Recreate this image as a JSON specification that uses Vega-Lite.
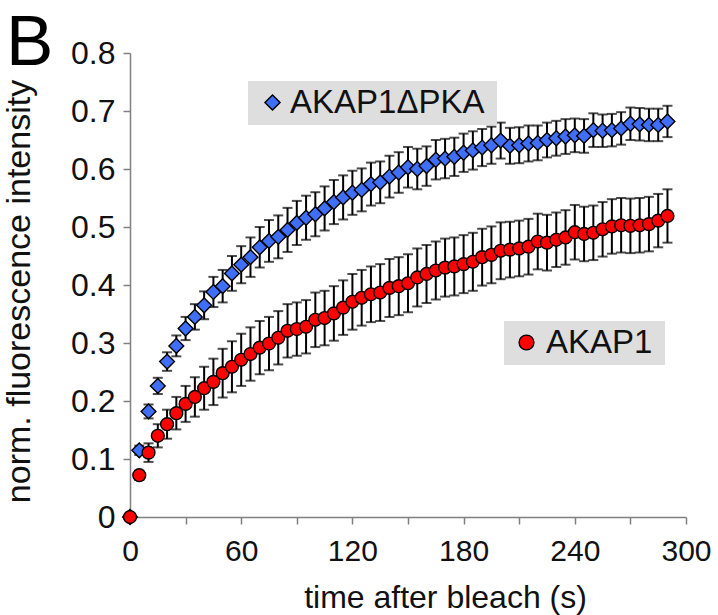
{
  "$schema": "https://vega.github.io/schema/vega-lite/v6.json",
  "width": 556,
  "height": 464,
  "autosize": {"type": "none"},
  "padding": {"left": 130, "top": 53, "right": 32, "bottom": 98},
  "background": "white",
  "config": {
    "font": "Liberation Sans",
    "view": {"stroke": null},
    "axis": {"grid": false}
  },
  "title": {
    "text": "B",
    "anchor": "start",
    "frame": "group",
    "fontSize": 71,
    "fontWeight": "normal",
    "font": "Liberation Sans",
    "color": "#000000",
    "baseline": "alphabetic",
    "offset": 0,
    "dx": -124,
    "dy": 99
  },
  "datasets": {
    "akap": [
      {"time": 0, "series": "AKAP1ΔPKA", "mean": 0, "err": 0},
      {"time": 5, "series": "AKAP1ΔPKA", "mean": 0.115, "err": 0.008},
      {"time": 10, "series": "AKAP1ΔPKA", "mean": 0.182, "err": 0.012},
      {"time": 15, "series": "AKAP1ΔPKA", "mean": 0.226, "err": 0.014},
      {"time": 20, "series": "AKAP1ΔPKA", "mean": 0.268, "err": 0.016},
      {"time": 25, "series": "AKAP1ΔPKA", "mean": 0.295, "err": 0.018},
      {"time": 30, "series": "AKAP1ΔPKA", "mean": 0.325, "err": 0.02},
      {"time": 35, "series": "AKAP1ΔPKA", "mean": 0.345, "err": 0.022},
      {"time": 40, "series": "AKAP1ΔPKA", "mean": 0.365, "err": 0.024},
      {"time": 45, "series": "AKAP1ΔPKA", "mean": 0.388, "err": 0.026},
      {"time": 50, "series": "AKAP1ΔPKA", "mean": 0.398, "err": 0.028},
      {"time": 55, "series": "AKAP1ΔPKA", "mean": 0.42, "err": 0.03},
      {"time": 60, "series": "AKAP1ΔPKA", "mean": 0.435, "err": 0.032},
      {"time": 65, "series": "AKAP1ΔPKA", "mean": 0.448, "err": 0.034},
      {"time": 70, "series": "AKAP1ΔPKA", "mean": 0.465, "err": 0.035},
      {"time": 75, "series": "AKAP1ΔPKA", "mean": 0.476, "err": 0.036},
      {"time": 80, "series": "AKAP1ΔPKA", "mean": 0.483, "err": 0.037},
      {"time": 85, "series": "AKAP1ΔPKA", "mean": 0.495, "err": 0.038},
      {"time": 90, "series": "AKAP1ΔPKA", "mean": 0.507, "err": 0.038},
      {"time": 95, "series": "AKAP1ΔPKA", "mean": 0.516, "err": 0.038},
      {"time": 100, "series": "AKAP1ΔPKA", "mean": 0.522, "err": 0.038},
      {"time": 105, "series": "AKAP1ΔPKA", "mean": 0.532, "err": 0.038},
      {"time": 110, "series": "AKAP1ΔPKA", "mean": 0.543, "err": 0.038},
      {"time": 115, "series": "AKAP1ΔPKA", "mean": 0.551, "err": 0.038},
      {"time": 120, "series": "AKAP1ΔPKA", "mean": 0.559, "err": 0.038},
      {"time": 125, "series": "AKAP1ΔPKA", "mean": 0.564, "err": 0.037},
      {"time": 130, "series": "AKAP1ΔPKA", "mean": 0.574, "err": 0.037},
      {"time": 135, "series": "AKAP1ΔPKA", "mean": 0.577, "err": 0.036},
      {"time": 140, "series": "AKAP1ΔPKA", "mean": 0.587, "err": 0.036},
      {"time": 145, "series": "AKAP1ΔPKA", "mean": 0.594, "err": 0.035},
      {"time": 150, "series": "AKAP1ΔPKA", "mean": 0.603, "err": 0.035},
      {"time": 155, "series": "AKAP1ΔPKA", "mean": 0.6, "err": 0.035},
      {"time": 160, "series": "AKAP1ΔPKA", "mean": 0.605, "err": 0.034},
      {"time": 165, "series": "AKAP1ΔPKA", "mean": 0.616, "err": 0.034},
      {"time": 170, "series": "AKAP1ΔPKA", "mean": 0.618, "err": 0.034},
      {"time": 175, "series": "AKAP1ΔPKA", "mean": 0.621, "err": 0.033},
      {"time": 180, "series": "AKAP1ΔPKA", "mean": 0.628, "err": 0.033},
      {"time": 185, "series": "AKAP1ΔPKA", "mean": 0.632, "err": 0.033},
      {"time": 190, "series": "AKAP1ΔPKA", "mean": 0.637, "err": 0.032},
      {"time": 195, "series": "AKAP1ΔPKA", "mean": 0.641, "err": 0.032},
      {"time": 200, "series": "AKAP1ΔPKA", "mean": 0.649, "err": 0.031},
      {"time": 205, "series": "AKAP1ΔPKA", "mean": 0.64, "err": 0.031},
      {"time": 210, "series": "AKAP1ΔPKA", "mean": 0.641, "err": 0.031},
      {"time": 215, "series": "AKAP1ΔPKA", "mean": 0.644, "err": 0.031},
      {"time": 220, "series": "AKAP1ΔPKA", "mean": 0.645, "err": 0.03},
      {"time": 225, "series": "AKAP1ΔPKA", "mean": 0.65, "err": 0.03},
      {"time": 230, "series": "AKAP1ΔPKA", "mean": 0.653, "err": 0.03},
      {"time": 235, "series": "AKAP1ΔPKA", "mean": 0.656, "err": 0.03},
      {"time": 240, "series": "AKAP1ΔPKA", "mean": 0.658, "err": 0.029},
      {"time": 245, "series": "AKAP1ΔPKA", "mean": 0.657, "err": 0.029},
      {"time": 250, "series": "AKAP1ΔPKA", "mean": 0.667, "err": 0.029},
      {"time": 255, "series": "AKAP1ΔPKA", "mean": 0.666, "err": 0.028},
      {"time": 260, "series": "AKAP1ΔPKA", "mean": 0.667, "err": 0.028},
      {"time": 265, "series": "AKAP1ΔPKA", "mean": 0.67, "err": 0.028},
      {"time": 270, "series": "AKAP1ΔPKA", "mean": 0.678, "err": 0.028},
      {"time": 275, "series": "AKAP1ΔPKA", "mean": 0.677, "err": 0.028},
      {"time": 280, "series": "AKAP1ΔPKA", "mean": 0.676, "err": 0.028},
      {"time": 285, "series": "AKAP1ΔPKA", "mean": 0.676, "err": 0.028},
      {"time": 290, "series": "AKAP1ΔPKA", "mean": 0.682, "err": 0.027},
      {"time": 0, "series": "AKAP1", "mean": 0, "err": 0},
      {"time": 5, "series": "AKAP1", "mean": 0.072, "err": 0.008},
      {"time": 10, "series": "AKAP1", "mean": 0.111, "err": 0.016},
      {"time": 15, "series": "AKAP1", "mean": 0.14, "err": 0.02},
      {"time": 20, "series": "AKAP1", "mean": 0.16, "err": 0.025},
      {"time": 25, "series": "AKAP1", "mean": 0.179, "err": 0.028},
      {"time": 30, "series": "AKAP1", "mean": 0.195, "err": 0.031},
      {"time": 35, "series": "AKAP1", "mean": 0.207, "err": 0.034},
      {"time": 40, "series": "AKAP1", "mean": 0.222, "err": 0.037},
      {"time": 45, "series": "AKAP1", "mean": 0.233, "err": 0.04},
      {"time": 50, "series": "AKAP1", "mean": 0.248, "err": 0.042},
      {"time": 55, "series": "AKAP1", "mean": 0.259, "err": 0.044},
      {"time": 60, "series": "AKAP1", "mean": 0.271, "err": 0.045},
      {"time": 65, "series": "AKAP1", "mean": 0.281, "err": 0.046},
      {"time": 70, "series": "AKAP1", "mean": 0.292, "err": 0.046},
      {"time": 75, "series": "AKAP1", "mean": 0.299, "err": 0.046},
      {"time": 80, "series": "AKAP1", "mean": 0.309, "err": 0.046},
      {"time": 85, "series": "AKAP1", "mean": 0.321, "err": 0.046},
      {"time": 90, "series": "AKAP1", "mean": 0.324, "err": 0.046},
      {"time": 95, "series": "AKAP1", "mean": 0.328, "err": 0.046},
      {"time": 100, "series": "AKAP1", "mean": 0.34, "err": 0.047},
      {"time": 105, "series": "AKAP1", "mean": 0.343, "err": 0.047},
      {"time": 110, "series": "AKAP1", "mean": 0.351, "err": 0.047},
      {"time": 115, "series": "AKAP1", "mean": 0.361, "err": 0.047},
      {"time": 120, "series": "AKAP1", "mean": 0.371, "err": 0.048},
      {"time": 125, "series": "AKAP1", "mean": 0.378, "err": 0.048},
      {"time": 130, "series": "AKAP1", "mean": 0.384, "err": 0.048},
      {"time": 135, "series": "AKAP1", "mean": 0.387, "err": 0.049},
      {"time": 140, "series": "AKAP1", "mean": 0.395, "err": 0.05},
      {"time": 145, "series": "AKAP1", "mean": 0.398, "err": 0.05},
      {"time": 150, "series": "AKAP1", "mean": 0.403, "err": 0.05},
      {"time": 155, "series": "AKAP1", "mean": 0.413, "err": 0.05},
      {"time": 160, "series": "AKAP1", "mean": 0.419, "err": 0.05},
      {"time": 165, "series": "AKAP1", "mean": 0.425, "err": 0.05},
      {"time": 170, "series": "AKAP1", "mean": 0.43, "err": 0.05},
      {"time": 175, "series": "AKAP1", "mean": 0.432, "err": 0.05},
      {"time": 180, "series": "AKAP1", "mean": 0.436, "err": 0.05},
      {"time": 185, "series": "AKAP1", "mean": 0.44, "err": 0.05},
      {"time": 190, "series": "AKAP1", "mean": 0.448, "err": 0.049},
      {"time": 195, "series": "AKAP1", "mean": 0.452, "err": 0.049},
      {"time": 200, "series": "AKAP1", "mean": 0.459, "err": 0.049},
      {"time": 205, "series": "AKAP1", "mean": 0.461, "err": 0.048},
      {"time": 210, "series": "AKAP1", "mean": 0.463, "err": 0.048},
      {"time": 215, "series": "AKAP1", "mean": 0.466, "err": 0.048},
      {"time": 220, "series": "AKAP1", "mean": 0.475, "err": 0.048},
      {"time": 225, "series": "AKAP1", "mean": 0.473, "err": 0.048},
      {"time": 230, "series": "AKAP1", "mean": 0.478, "err": 0.047},
      {"time": 235, "series": "AKAP1", "mean": 0.482, "err": 0.047},
      {"time": 240, "series": "AKAP1", "mean": 0.491, "err": 0.047},
      {"time": 245, "series": "AKAP1", "mean": 0.488, "err": 0.047},
      {"time": 250, "series": "AKAP1", "mean": 0.49, "err": 0.047},
      {"time": 255, "series": "AKAP1", "mean": 0.496, "err": 0.047},
      {"time": 260, "series": "AKAP1", "mean": 0.501, "err": 0.047},
      {"time": 265, "series": "AKAP1", "mean": 0.503, "err": 0.047},
      {"time": 270, "series": "AKAP1", "mean": 0.502, "err": 0.047},
      {"time": 275, "series": "AKAP1", "mean": 0.503, "err": 0.047},
      {"time": 280, "series": "AKAP1", "mean": 0.505, "err": 0.047},
      {"time": 285, "series": "AKAP1", "mean": 0.511, "err": 0.046},
      {"time": 290, "series": "AKAP1", "mean": 0.519, "err": 0.046}
    ]
  },
  "data": {"name": "akap"},
  "encoding": {
    "x": {
      "field": "time",
      "type": "quantitative",
      "scale": {"domain": [0, 300], "nice": false, "zero": false},
      "axis": {
        "title": "time after bleach (s)",
        "values": [0, 30, 60, 90, 120, 150, 180, 210, 240, 270, 300],
        "labelExpr": "datum.value % 60 == 0 ? datum.label : ''",
        "domainColor": "#808080",
        "tickColor": "#808080",
        "domainWidth": 1.5,
        "tickWidth": 1.5,
        "tickSize": 7,
        "labelFontSize": 30,
        "labelColor": "#111111",
        "labelPadding": 12,
        "labelFlush": false,
        "labelOverlap": false,
        "titleFontSize": 32,
        "titleFontWeight": "normal",
        "titleColor": "#111111",
        "titleX": 315,
        "titleY": 90,
        "titleAlign": "center",
        "titleBaseline": "alphabetic"
      }
    },
    "y": {
      "field": "mean",
      "type": "quantitative",
      "scale": {"domain": [0, 0.8], "nice": false},
      "axis": {
        "title": "norm. fluorescence intensity",
        "values": [0, 0.1, 0.2, 0.3, 0.4, 0.5, 0.6, 0.7, 0.8],
        "format": ".1~f",
        "domainColor": "#808080",
        "tickColor": "#808080",
        "domainWidth": 1.5,
        "tickWidth": 1.5,
        "tickSize": 7,
        "labelFontSize": 32,
        "labelColor": "#111111",
        "labelPadding": 8,
        "labelFlush": false,
        "labelOverlap": false,
        "titleFontSize": 34,
        "titleFontWeight": "normal",
        "titleColor": "#111111",
        "titleX": -111,
        "titleY": 238,
        "titleAngle": 270,
        "titleAlign": "center",
        "titleBaseline": "middle"
      }
    }
  },
  "layer": [
    {
      "transform": [{"filter": "datum.series == 'AKAP1ΔPKA'"}],
      "mark": {"type": "errorbar", "ticks": {"thickness": 2, "color": "black"}, "rule": {"strokeWidth": 2, "color": "black"}, "color": "black", "thickness": 2, "size": 10},
      "encoding": {"yError": {"field": "err"}}
    },
    {
      "transform": [{"filter": "datum.series == 'AKAP1ΔPKA'"}],
      "mark": {"type": "point", "shape": "diamond", "filled": true, "size": 220, "stroke": "black", "strokeWidth": 1.4, "opacity": 1},
      "encoding": {
        "color": {
          "field": "series",
          "type": "nominal",
          "scale": {"domain": ["AKAP1ΔPKA"], "range": ["#3f6ef8"]},
          "legend": {
            "orient": "none",
            "legendX": 118,
            "legendY": 28,
            "title": "\u00a0",
            "titleOrient": "right",
            "titleFontSize": 10,
            "titlePadding": 8,
            "fillColor": "#dedede",
            "padding": 5,
            "symbolOffset": 3,
            "labelOffset": 1,
            "labelFontSize": 33,
            "labelLimit": 400,
            "labelColor": "#111111",
            "symbolType": "diamond",
            "symbolSize": 230,
            "symbolStrokeColor": "black",
            "symbolStrokeWidth": 1.4
          }
        }
      }
    },
    {
      "transform": [{"filter": "datum.series == 'AKAP1'"}],
      "mark": {"type": "errorbar", "ticks": {"thickness": 2, "color": "black"}, "rule": {"strokeWidth": 2, "color": "black"}, "color": "black", "thickness": 2, "size": 10},
      "encoding": {"yError": {"field": "err"}}
    },
    {
      "transform": [{"filter": "datum.series == 'AKAP1'"}],
      "mark": {"type": "point", "shape": "circle", "filled": true, "size": 165, "stroke": "black", "strokeWidth": 1.4, "opacity": 1},
      "encoding": {
        "color": {
          "field": "series",
          "type": "nominal",
          "scale": {"domain": ["AKAP1"], "range": ["#ff0000"]},
          "legend": {
            "orient": "none",
            "legendX": 374,
            "legendY": 268,
            "title": "\u00a0",
            "titleOrient": "right",
            "titleFontSize": 10,
            "titlePadding": 8,
            "fillColor": "#dedede",
            "padding": 5,
            "symbolOffset": 1,
            "labelOffset": 3,
            "labelFontSize": 33,
            "labelLimit": 400,
            "labelColor": "#111111",
            "symbolType": "circle",
            "symbolSize": 220,
            "symbolStrokeColor": "black",
            "symbolStrokeWidth": 1.4
          }
        }
      }
    }
  ],
  "resolve": {"scale": {"color": "independent"}}
}
